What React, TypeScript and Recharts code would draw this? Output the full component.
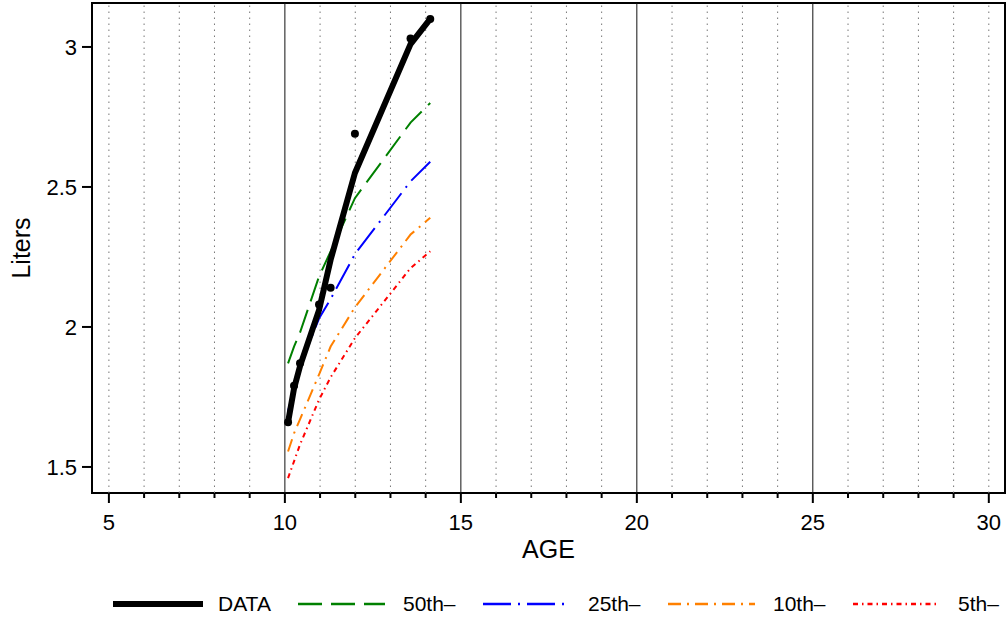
import React from "react";
import {
  ComposedChart,
  Line,
  Scatter,
  XAxis,
  YAxis,
  ReferenceLine,
  ReferenceArea,
  Legend,
} from "recharts";

// ages of the measurements (the percentile curves use the same ages)
const ages = [10.09, 10.26, 10.43, 10.97, 11.3, 11.99, 13.57, 14.13];
const observed = [1.66, 1.79, 1.87, 2.08, 2.14, 2.69, 3.03, 3.1];
const dataLine = [1.66, 1.78, 1.86, 2.06, 2.24, 2.55, 3.01, 3.1];
const p50 = [1.87, 1.93, 1.98, 2.18, 2.27, 2.46, 2.73, 2.8];
const p25 = [1.7, 1.78, 1.86, 2.03, 2.1, 2.26, 2.52, 2.59];
const p10 = [1.555, 1.62, 1.67, 1.83, 1.93, 2.07, 2.33, 2.39];
const p5 = [1.46, 1.52, 1.58, 1.74, 1.82, 1.96, 2.21, 2.27];

const xTicks = [5, 6, 7, 8, 9, 10, 11, 12, 13, 14, 15, 16, 17, 18, 19, 20, 21, 22, 23, 24, 25, 26, 27, 28, 29, 30];
const yTicks = [1.5, 2, 2.5, 3];

const FONT = "'Liberation Sans', Arial, Helvetica, sans-serif";

const rows = ages.map((age, i) => ({
  age,
  observed: observed[i],
  fit: dataLine[i],
  p50: p50[i],
  p25: p25[i],
  p10: p10[i],
  p5: p5[i],
}));

const series = [
  { key: "fit", name: "DATA", color: "#000000", dash: undefined, width: 6 },
  { key: "p50", name: "50th\u2013", color: "#008000", dash: "24 9", width: 2 },
  { key: "p25", name: "25th\u2013", color: "#0000FF", dash: "28 7 2 7", width: 2 },
  { key: "p10", name: "10th\u2013", color: "#FF8000", dash: "13 6 2 6", width: 2 },
  { key: "p5", name: "5th\u2013", color: "#FF0000", dash: "5 4 1.5 4", width: 2 },
];

function AgeTick(props: any) {
  const { x, y, payload } = props;
  const major = payload.value % 5 === 0;
  return (
    <g>
      <line x1={x} x2={x} y1={y} y2={y + (major ? 10 : 5)} stroke="#000" strokeWidth={2} />
      {major && (
        <text x={x} y={y + 37} textAnchor="middle" fontSize={22} fontFamily={FONT} fill="#000">
          {payload.value}
        </text>
      )}
    </g>
  );
}

function ChartLegend() {
  return (
    <svg width={1007} height={25} style={{ display: "block" }}>
      {series.map((s, i) => {
        const x0 = 113 + i * 185;
        return (
          <g key={s.key}>
            <line
              x1={x0}
              x2={x0 + (i === 0 ? 90 : 87)}
              y1={12}
              y2={12}
              stroke={s.color}
              strokeWidth={i === 0 ? 6 : 2.5}
              strokeDasharray={s.dash}
            />
            <text x={x0 + 105} y={19} fontSize={21} fontFamily={FONT} fill="#000">
              {s.name}
            </text>
          </g>
        );
      })}
    </svg>
  );
}

export default function App() {
  return (
    <div style={{ position: "absolute", left: 0, top: 0, width: 1007, height: 617, background: "#fff" }}>
      <ComposedChart width={1007} height={617} data={rows} margin={{ top: 3, right: 2, bottom: 0, left: 0 }}>
        <XAxis
          type="number"
          dataKey="age"
          domain={[4.52, 30.46]}
          ticks={xTicks}
          interval={0}
          allowDataOverflow
          axisLine={false}
          tickLine={false}
          tickSize={0}
          tickMargin={0}
          height={99}
          tick={<AgeTick />}
          label={{
            content: (p: any) => (
              <text
                x={p.viewBox.x + p.viewBox.width / 2}
                y={p.viewBox.y + 65}
                textAnchor="middle"
                fontSize={25}
                fontFamily={FONT}
                fill="#000"
              >
                AGE
              </text>
            ),
          }}
        />
        <YAxis
          type="number"
          domain={[1.407, 3.157]}
          ticks={yTicks}
          allowDataOverflow
          width={92}
          axisLine={false}
          tickSize={10}
          tickMargin={5}
          tickLine={{ stroke: "#000", strokeWidth: 2 }}
          tick={{ fontSize: 22, fontFamily: FONT, fill: "#000" }}
          label={{
            content: (p: any) => {
              const cy = p.viewBox.y + p.viewBox.height / 2;
              return (
                <text
                  x={30}
                  y={cy}
                  transform={`rotate(-90 30 ${cy})`}
                  textAnchor="middle"
                  fontSize={25}
                  fontFamily={FONT}
                  fill="#000"
                >
                  Liters
                </text>
              );
            },
          }}
        />
        {xTicks.map((v) => {
          const major = v % 5 === 0 && v !== 5 && v !== 30;
          return (
            <ReferenceLine
              key={v}
              x={v}
              stroke={major ? "#111" : "#777"}
              strokeWidth={1}
              strokeDasharray={major ? undefined : "1.5 4.5"}
            />
          );
        })}
        <ReferenceArea x1={4.52} x2={30.46} y1={1.407} y2={3.157} fill="none" stroke="#000" strokeWidth={2} />
        {series
          .slice(1)
          .reverse()
          .map((s) => (
            <Line
              key={s.key}
              dataKey={s.key}
              name={s.name}
              type="linear"
              stroke={s.color}
              strokeWidth={s.width}
              strokeDasharray={s.dash}
              dot={false}
              isAnimationActive={false}
            />
          ))}
        <Line
          dataKey="fit"
          name="DATA"
          type="linear"
          stroke="#000"
          strokeWidth={6}
          strokeLinejoin="round"
          dot={false}
          isAnimationActive={false}
        />
        <Scatter dataKey="observed" fill="#000" shape={(p: any) => <circle cx={p.cx} cy={p.cy} r={4} fill="#000" />} isAnimationActive={false} />
        <Legend verticalAlign="bottom" content={<ChartLegend />} wrapperStyle={{ left: 0, width: 1007 }} />
      </ComposedChart>
    </div>
  );
}
